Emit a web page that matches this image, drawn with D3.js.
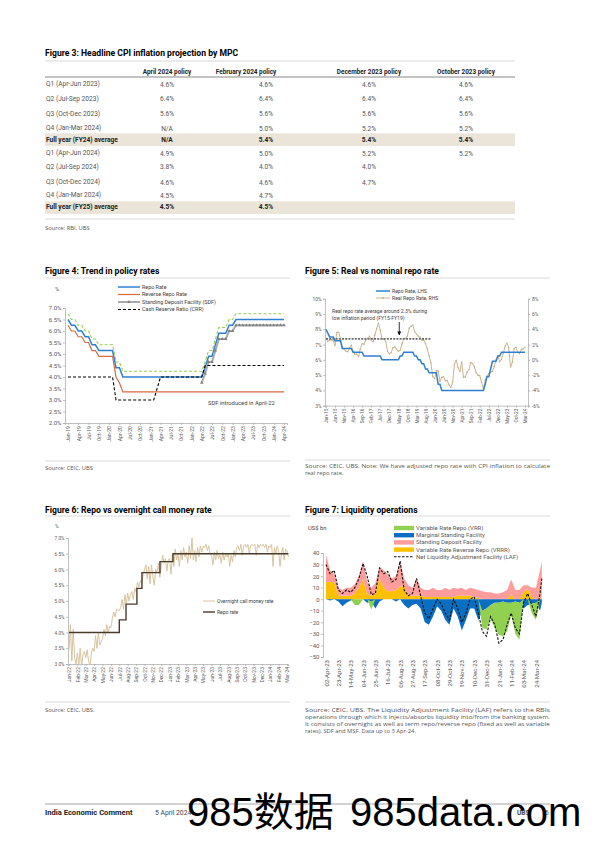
<!DOCTYPE html>
<html><head><meta charset="utf-8">
<script src="https://cdn.jsdelivr.net/npm/d3@7"></script>
<style>html,body{margin:0;padding:0;background:#fff;}</style>
</head><body>
<svg id="page" width="595" height="842" xmlns="http://www.w3.org/2000/svg"></svg>
<script>
// ================= DATA =================
// Figure 3 table
const t3Columns = ["April 2024 policy","February 2024 policy","December 2023 policy","October 2023 policy"];
const t3Rows = ["Q1 (Apr-Jun 2023)","Q2 (Jul-Sep 2023)","Q3 (Oct-Dec 2023)","Q4 (Jan-Mar 2024)","Full year (FY24) average",
                "Q1 (Apr-Jun 2024)","Q2 (Jul-Sep 2024)","Q3 (Oct-Dec 2024)","Q4 (Jan-Mar 2024)","Full year (FY25) average"];
const t3Apr24 = ["4.6%","6.4%","5.6%","N/A","N/A","4.9%","3.8%","4.6%","4.5%","4.5%"];
const t3Feb24 = ["4.6%","6.4%","5.6%","5.0%","5.4%","5.0%","4.0%","4.6%","4.7%","4.5%"];
const t3Dec23 = ["4.6%","6.4%","5.6%","5.2%","5.4%","5.2%","4.0%","4.7%","",""];
const t3Oct23 = ["4.6%","6.4%","5.6%","5.2%","5.4%","5.2%","","","",""];
const t3Highlight = [4, 9];

// Figure 4: monthly Jan-19 .. Apr-24
const f4XLabels = ["Jan-19","Apr-19","Jul-19","Oct-19","Jan-20","Apr-20","Jul-20","Oct-20","Jan-21","Apr-21","Jul-21","Oct-21",
                   "Jan-22","Apr-22","Jul-22","Oct-22","Jan-23","Apr-23","Jul-23","Oct-23","Jan-24","Apr-24"];
const f4YTicks = [2.0,2.5,3.0,3.5,4.0,4.5,5.0,5.5,6.0,6.5,7.0];
const f4Repo = [6.5,6.25,6.25,6.0,6.0,5.75,5.75,5.4,5.4,5.15,5.15,5.15,5.15,5.15,4.4,4.4,4.0,
  4.0,4.0,4.0,4.0,4.0,4.0,4.0,4.0,4.0,4.0,4.0,4.0,4.0,4.0,4.0,4.0,4.0,4.0,4.0,4.0,4.0,4.0,4.0,
  4.4,4.9,4.9,5.4,5.9,5.9,5.9,6.25,6.25,6.5,
  6.5,6.5,6.5,6.5,6.5,6.5,6.5,6.5,6.5,6.5,6.5,6.5,6.5,6.5];
const f4Reverse = [6.25,6.0,6.0,5.75,5.75,5.5,5.5,5.15,5.15,4.9,4.9,4.9,4.9,4.9,4.0,3.75,3.35,
  3.35,3.35,3.35,3.35,3.35,3.35,3.35,3.35,3.35,3.35,3.35,3.35,3.35,3.35,3.35,3.35,3.35,3.35,3.35,3.35,3.35,3.35,3.35,
  3.35,3.35,3.35,3.35,3.35,3.35,3.35,3.35,3.35,3.35,3.35,3.35,3.35,3.35,3.35,3.35,3.35,3.35,3.35,3.35,3.35,3.35,3.35,3.35];
const f4MSF = [6.75,6.5,6.5,6.25,6.25,6.0,6.0,5.65,5.65,5.4,5.4,5.4,5.4,5.4,4.65,4.65,4.25,
  4.25,4.25,4.25,4.25,4.25,4.25,4.25,4.25,4.25,4.25,4.25,4.25,4.25,4.25,4.25,4.25,4.25,4.25,4.25,4.25,4.25,4.25,4.25,
  4.65,5.15,5.15,5.65,6.15,6.15,6.15,6.5,6.5,6.75,
  6.75,6.75,6.75,6.75,6.75,6.75,6.75,6.75,6.75,6.75,6.75,6.75,6.75,6.75];
const f4SDF = [null,null,null,null,null,null,null,null,null,null,null,null,null,null,null,null,null,null,null,null,
  null,null,null,null,null,null,null,null,null,null,null,null,null,null,null,null,null,null,null,
  3.75,4.15,4.65,4.65,5.15,5.65,5.65,5.65,6.0,6.0,6.25,
  6.25,6.25,6.25,6.25,6.25,6.25,6.25,6.25,6.25,6.25,6.25,6.25,6.25,6.25];
const f4CRR = [4.0,4.0,4.0,4.0,4.0,4.0,4.0,4.0,4.0,4.0,4.0,4.0,4.0,4.0,
  3.0,3.0,3.0,3.0,3.0,3.0,3.0,3.0,3.0,3.0,3.0,3.0,
  3.5,
  4.0,4.0,4.0,4.0,4.0,4.0,4.0,4.0,4.0,4.0,4.0,4.0,4.0,
  4.5,4.5,4.5,4.5,4.5,4.5,4.5,4.5,4.5,4.5,4.5,4.5,4.5,4.5,4.5,4.5,4.5,4.5,4.5,4.5,4.5,4.5,4.5,4.5];
const f4Legend = ["Repo Rate","Reverse Repo Rate","Standing Deposit Facility (SDF)","Cash Reserve Ratio (CRR)"];

// Figure 5: monthly Jan-15 .. Mar-24
const f5XLabels = ["Jan-15","Jun-15","Nov-15","Apr-16","Sep-16","Feb-17","Jul-17","Dec-17","May-18","Oct-18","Mar-19","Aug-19",
                   "Jan-20","Jun-20","Nov-20","Apr-21","Sep-21","Feb-22","Jul-22","Dec-22","May-23","Oct-23","Mar-24"];
const f5LeftTicks = [3,4,5,6,7,8,9,10];
const f5RightTicks = [-6,-4,-2,0,2,4,6,8];
const f5Repo = [8.0,7.75,7.5,7.5,7.5,7.25,7.25,7.25,7.25,6.75,6.75,6.75,6.75,6.75,6.75,
  6.5,6.5,6.5,6.5,6.5,6.5,6.25,6.25,6.25,6.25,6.25,6.25,6.25,6.25,6.25,6.25,
  6.0,6.0,6.0,6.0,6.0,6.0,6.0,6.0,6.0,6.0,6.25,6.25,6.5,6.5,6.5,6.5,6.5,6.5,
  6.25,6.25,6.0,6.0,5.75,5.75,5.4,5.4,5.15,5.15,5.15,5.15,5.15,4.4,4.4,4.0,
  4.0,4.0,4.0,4.0,4.0,4.0,4.0,4.0,4.0,4.0,4.0,4.0,4.0,4.0,4.0,4.0,4.0,4.0,4.0,4.0,4.0,4.0,4.0,
  4.4,4.9,4.9,5.4,5.9,5.9,5.9,6.25,6.25,6.5,
  6.5,6.5,6.5,6.5,6.5,6.5,6.5,6.5,6.5,6.5,6.5,6.5,6.5];
const f5Real = [2.8,2.4,2.6,2.6,2.5,1.9,3.6,3.6,2.8,1.75,1.34,1.14,1.06,1.57,1.92,1.03,0.74,0.73,0.43,1.45,2.11,
  2.05,2.62,2.84,3.08,2.6,2.36,3.26,4.07,4.79,3.89,2.72,2.72,2.42,1.12,0.79,0.93,1.56,1.72,1.42,1.13,
  1.25,2.08,2.81,2.8,3.12,4.17,4.39,4.53,3.68,3.39,3.08,2.95,2.57,2.6,2.12,1.41,0.53,-0.39,-2.2,
  -2.44,-1.43,-1.44,-2.82,-2.27,-2.23,-2.73,-2.69,-3.27,-3.61,-2.93,-0.59,-0.06,-1.03,-1.52,-0.29,
  -2.3,-2.26,-1.59,-1.3,-0.35,-0.48,-0.91,-1.66,-2.01,-2.07,-2.95,-3.79,-2.64,-2.11,-1.81,-1.6,-1.51,
  -0.87,0.02,0.53,-0.27,0.06,0.84,1.8,2.19,1.63,-0.94,-0.33,1.48,1.63,0.95,0.81,1.4,1.41,1.65];
const f5AvgFrom = 0, f5AvgTo = 58, f5AvgValue = 2.75;   // RHS units, month index
const f5Legend = ["Repo Rate, LHS","Real Repo Rate, RHS"];

// Figure 6: x in label units (Jan-22 = 0)
const f6XLabels = ["Jan-22","Feb-22","Mar-22","Apr-22","May-22","Jun-22","Jul-22","Aug-22","Sep-22","Oct-22","Nov-22","Dec-22",
  "Jan-23","Feb-23","Mar-23","Apr-23","May-23","Jun-23","Jul-23","Aug-23","Sep-23","Oct-23","Nov-23","Dec-23","Jan-24","Feb-24","Mar-24"];
const f6YTicks = [3.0,3.5,4.0,4.5,5.0,5.5,6.0,6.5,7.0];
const f6Call = [3.45,4.25,3.1,4.1,3.2,3.0, 3.35,2.95,3.5,2.9,3.3,3.4, 3.2,3.45,3.1,2.9,3.35,3.5,
  3.4,3.9,3.5,4.0,3.6,3.7, 3.8,4.1,3.9,4.25,4.0,4.2, 4.15,4.45,4.65,4.5,4.75,4.7,
  4.7,4.8,5.05,4.75,5.2,4.9, 5.25,5.0,5.2,5.3,5.05,5.4, 5.3,5.6,5.45,5.65,5.55,5.8,
  6.0,6.15,5.7,6.1,5.55,6.15, 5.8,5.5,6.0,5.9,6.2,5.75, 6.1,6.45,6.2,6.35,5.95,6.3,
  6.35,5.85,6.5,6.1,6.65,6.3, 6.5,6.1,6.6,6.3,6.7,6.4, 6.55,6.2,6.75,6.35,7.0,6.3,
  6.6,6.25,6.7,6.4,6.75,6.55, 6.75,6.7,6.8,6.6,6.75,6.5, 6.45,6.15,6.55,6.3,6.6,6.35,
  6.45,6.2,6.55,6.3,6.5,6.4, 6.5,6.1,6.45,6.25,6.6,6.4, 6.7,6.75,6.6,6.8,6.45,6.75,
  6.8,6.7,6.8,6.5,6.75,6.8, 6.75,6.8,6.45,6.8,6.7,6.8, 6.75,6.8,6.7,6.8,6.55,6.75,
  6.7,6.8,6.1,6.7,6.5,6.75, 6.6,6.1,6.5,6.7,6.3,6.65, 6.6,6.4];
const f6PerLabel = 6;
const f6RepoAt = [0,6.0,6.8,8.1,8.7,10.85,12.4,26.17];
const f6Repo = [4.0,4.4,4.9,5.4,5.9,6.25,6.5,6.5];
const f6Legend = ["Overnight call money rate","Repo rate"];

// Figure 7: weekly observations, US$ bn
const f7Dates = ["2023-04-02","2023-04-09","2023-04-16","2023-04-23","2023-04-30","2023-05-07","2023-05-14","2023-05-21","2023-05-28",
  "2023-06-04","2023-06-11","2023-06-18","2023-06-25","2023-07-02","2023-07-09","2023-07-16","2023-07-23","2023-07-30",
  "2023-08-06","2023-08-13","2023-08-20","2023-08-27","2023-09-03","2023-09-10","2023-09-17","2023-09-24",
  "2023-10-01","2023-10-08","2023-10-15","2023-10-22","2023-10-29","2023-11-05","2023-11-12","2023-11-19","2023-11-26",
  "2023-12-03","2023-12-10","2023-12-17","2023-12-24","2023-12-31","2024-01-07","2024-01-14","2024-01-21","2024-01-28",
  "2024-02-04","2024-02-11","2024-02-18","2024-02-25","2024-03-03","2024-03-10","2024-03-17","2024-03-24","2024-03-31","2024-04-03"];
const f7VRRR = [15,15,15,3,3,3,3,5,10,17,4,3,5,18,10,7,7,8,11,11,3,3,3,3,2,2,2,2,2,2,2,2,3,3,3,3,2,1,0,0,0,0,0,0,0,4,0,0,6,9,2,0,0,3];
const f7SDF  = [23,10,7,7,5,7,7,8,10,16,11,7,9,10,15,15,11,12,22,7,9,7,15,7,6,6,8,6,6,8,6,8,6,7,5,7,7,7,7,6,6,5,5,6,8,13,8,8,6,3,8,10,25,30];
const f7MSF  = [0,-1,0,-2,-6,-3,-1,0,0,0,-3,-2,-8,-2,0,0,0,-2,0,-5,-8,-5,-4,-8,-20,-22,-15,-6,-10,-18,-22,-8,-15,-27,-18,-8,-8,-18,-10,-8,-5,-3,-3,-2,-3,-3,-2,-3,-8,-5,-4,-3,-10,-3];
const f7VRR  = [0,0,0,0,0,0,0,-5,-5,0,0,-7,0,0,0,0,0,0,0,0,0,0,0,0,0,0,0,0,0,0,0,0,0,0,0,0,0,0,-15,-18,-12,-22,-28,-30,-25,-10,-28,-32,0,0,-8,-15,0,0];
const f7NetLAF = [30,22,25,8,5,8,6,10,18,31,20,4,5,27,22,24,15,17,33,8,3,5,18,3,-12,-17,-8,0,-4,-12,-18,0,-8,-20,-12,0,2,-12,-28,-32,-15,-22,-38,-35,-22,-12,-25,-30,-3,5,-5,-15,5,18];
const f7XLabels = ["02-Apr-23","23-Apr-23","14-May-23","04-Jun-23","25-Jun-23","16-Jul-23","06-Aug-23","27-Aug-23","17-Sep-23",
  "08-Oct-23","29-Oct-23","19-Nov-23","10-Dec-23","31-Dec-23","21-Jan-24","11-Feb-24","03-Mar-24","24-Mar-24"];
const f7YTicks = [-50,-40,-30,-20,-10,0,10,20,30,40];
const f7Legend = ["Variable Rate Repo (VRR)","Marginal Standing Facility","Standing Deposit Facility","Variable Rate Reverse Repo (VRRR)","Net Liquidity Adjustment Facility (LAF)"];

// ================= DRAWING =================
const F = "Roboto, 'Liberation Sans', Arial, sans-serif";
const FS = "'Open Sans', Roboto, sans-serif";
const svg = d3.select("#page");
svg.append("rect").attr("width",595).attr("height",842).attr("fill","#fff");

function T(x, y, s, o = {}) {
  const t = svg.append("text").attr("x", x).attr("y", y)
    .attr("font-family", o.family || F).attr("font-size", o.size || 6)
    .attr("font-weight", o.bold ? 700 : 400).attr("fill", o.fill || "#333")
    .attr("text-anchor", o.anchor || "start").text(s);
  if (o.len) t.attr("textLength", o.len).attr("lengthAdjust", "spacingAndGlyphs");
  return t;
}
function L(x1, y1, x2, y2, c, w, dash) {
  const l = svg.append("line").attr("x1", x1).attr("y1", y1).attr("x2", x2).attr("y2", y2)
    .attr("stroke", c).attr("stroke-width", w);
  if (dash) l.attr("stroke-dasharray", dash);
  return l;
}
function styleAxis(g, size, hideDomain) {
  g.attr("font-family", null).attr("font-size", null);
  g.selectAll("path.domain").attr("stroke", "#a6a6a6").attr("stroke-width", 0.7);
  if (hideDomain) g.selectAll("path.domain").remove();
  g.selectAll(".tick line").attr("stroke", "#a6a6a6").attr("stroke-width", 0.7);
  g.selectAll(".tick text").attr("font-family", F).attr("font-size", size).attr("fill", "#595959");
}
function rotateLabels(g) {
  g.selectAll(".tick text").attr("transform", "rotate(-90)").attr("x", -3).attr("y", 0)
    .attr("dy", "0.35em").attr("text-anchor", "end");
}
const TS = 8.6;   // figure title size
const SS = 5.8;   // source text size
const src = (x, y, s, len) => T(x, y, s, {size: SS, fill: "#555", family: FS, len: len});

// ---------- Figure 3 table ----------
T(45, 56, "Figure 3: Headline CPI inflation projection by MPC", {size: TS, bold: true, fill: "#000"});
L(45, 61, 515, 61, "#d9d9d9", 1);
const t3ValX = [167, 266, 369, 466];
const t3HeadX = [167, 246, 369, 466];
const t3Base = [86, 100.5, 115.5, 130, 141.5, 155, 168.5, 184, 197, 209];
const t3Bands = {4: [133.3, 146], 9: [201.3, 214]};
t3Highlight.forEach(i => svg.append("rect").attr("x", 45).attr("y", t3Bands[i][0]).attr("width", 470)
  .attr("height", t3Bands[i][1] - t3Bands[i][0]).attr("fill", "#ebe4d9"));
t3Columns.forEach((c, j) => T(t3HeadX[j], 74, c, {size: 6.4, bold: true, anchor: "middle", fill: "#222"}));
L(45, 77, 515, 77, "#6b6b6b", 0.8);
const t3Cols = [t3Apr24, t3Feb24, t3Dec23, t3Oct23];
t3Rows.forEach((r, i) => {
  const b = t3Highlight.includes(i);
  T(46, t3Base[i], r, {size: 6.6, bold: b, fill: b ? "#222" : "#555"});
  t3Cols.forEach((col, j) => { if (col[i]) T(t3ValX[j], t3Base[i] + (b ? 0 : 0.5), col[i], {size: 6.6, bold: b, anchor: "middle", fill: b ? "#222" : "#555"}); });
});
L(45, 219, 515, 219, "#d9d9d9", 1);
src(45, 230, "Source: RBI, UBS");

// ---------- Figure 4 ----------
T(45, 274, "Figure 4: Trend in policy rates", {size: TS, bold: true, fill: "#000"});
L(45, 278, 290, 278, "#d9d9d9", 1);
const x4 = d3.scaleLinear().domain([-0.875, 63.875]).range([65, 287]);
const y4 = d3.scaleLinear().domain([2, 7]).range([423, 308]);
T(55, 291, "%", {size: 5.5, fill: "#595959"});
svg.append("g").attr("transform", "translate(65,0)")
  .call(d3.axisLeft(y4).tickValues(f4YTicks).tickFormat(d => d.toFixed(1) + "%").tickSize(2).tickPadding(1.5))
  .call(g => styleAxis(g, 6));
svg.append("g").attr("transform", "translate(0,423)")
  .call(d3.axisBottom(x4).tickValues(d3.range(0, 64, 3)).tickFormat((d, i) => f4XLabels[i]).tickSize(2))
  .call(g => { styleAxis(g, 5.2); rotateLabels(g); });
const line4 = d3.line().defined(d => d != null).x((d, i) => x4(i)).y(d => y4(d));
svg.append("path").datum(f4MSF).attr("d", line4).attr("fill", "none").attr("stroke", "#92d050").attr("stroke-width", 1.1).attr("stroke-dasharray", "3,2");
svg.append("path").datum(f4Repo).attr("d", line4).attr("fill", "none").attr("stroke", "#2f80d1").attr("stroke-width", 1.5);
svg.append("path").datum(f4Reverse).attr("d", line4).attr("fill", "none").attr("stroke", "#d46b43").attr("stroke-width", 1.2);
svg.append("path").datum(f4SDF).attr("d", line4).attr("fill", "none").attr("stroke", "#a9a9a9").attr("stroke-width", 2);
svg.append("g").selectAll("path").data(f4SDF.map((v, i) => [i, v]).filter(d => d[1] != null)).join("path")
  .attr("transform", d => `translate(${x4(d[0])},${y4(d[1])})`)
  .attr("d", d3.symbol(d3.symbolTriangle, 5)).attr("fill", "#808080");
svg.append("path").datum(f4CRR).attr("d", line4).attr("fill", "none").attr("stroke", "#000").attr("stroke-width", 1.1).attr("stroke-dasharray", "3,2");
// legend
const f4LegY = [287, 294.5, 302, 309.5];
L(118, f4LegY[0], 140, f4LegY[0], "#2f80d1", 1.5);
L(118, f4LegY[1], 140, f4LegY[1], "#d46b43", 1.2);
L(118, f4LegY[2], 140, f4LegY[2], "#a9a9a9", 2);
svg.append("path").attr("transform", `translate(129,${f4LegY[2]})`).attr("d", d3.symbol(d3.symbolTriangle, 5)).attr("fill", "#808080");
L(118, f4LegY[3], 140, f4LegY[3], "#000", 1.1, "3,2");
f4Legend.forEach((s, i) => T(142, f4LegY[i] + 1.9, s, {size: 5.4, fill: "#404040"}));
T(208, 405, "SDF introduced in April-22", {size: 5.8, fill: "#404040"});
L(45, 461, 290, 461, "#d9d9d9", 1);
src(45, 470, "Source: CEIC, UBS");

// ---------- Figure 5 ----------
T(305, 274, "Figure 5: Real vs nominal repo rate", {size: TS, bold: true, fill: "#000"});
L(305, 278, 550, 278, "#d9d9d9", 1);
const x5 = d3.scaleLinear().domain([-0.55, 111.66]).range([325, 528]);
const y5L = d3.scaleLinear().domain([3, 10]).range([405.7, 298.7]);
const y5R = d3.scaleLinear().domain([-6, 8]).range([405.7, 298.7]);
svg.append("g").attr("transform", "translate(325,0)")
  .call(d3.axisLeft(y5L).tickValues(f5LeftTicks).tickFormat(d => d + "%").tickSize(2).tickPadding(1.5))
  .call(g => styleAxis(g, 4.9));
svg.append("g").attr("transform", "translate(528,0)")
  .call(d3.axisRight(y5R).tickValues(f5RightTicks).tickFormat(d => d + "%").tickSize(2).tickPadding(2))
  .call(g => styleAxis(g, 4.9));
svg.append("g").attr("transform", "translate(0,405.7)")
  .call(d3.axisBottom(x5).tickValues(d3.range(0, 111, 5)).tickFormat((d, i) => f5XLabels[i]).tickSize(2))
  .call(g => { styleAxis(g, 4.7); rotateLabels(g); });
svg.append("path").datum(f5Real).attr("d", d3.line().x((d, i) => x5(i)).y(d => y5R(d)))
  .attr("fill", "none").attr("stroke", "#cbb590").attr("stroke-width", 1);
svg.append("g").selectAll("circle").data(f5Real).join("circle")
  .attr("cx", (d, i) => x5(i)).attr("cy", d => y5R(d)).attr("r", 0.7).attr("fill", "#c4ab82");
svg.append("path").datum(f5Repo).attr("d", d3.line().x((d, i) => x5(i)).y(d => y5L(d)))
  .attr("fill", "none").attr("stroke", "#2f80d1").attr("stroke-width", 1.5);
L(x5(f5AvgFrom), y5R(f5AvgValue), x5(f5AvgTo), y5R(f5AvgValue), "#6b6b6b", 1.8, "2,1.2");
T(332, 313, "Real repo rate average around 2.3% during", {size: 5.1, fill: "#404040"});
T(332, 320, "low inflation period (FY15-FY19)", {size: 5.1, fill: "#404040"});
svg.append("defs").append("marker").attr("id", "ah").attr("viewBox", "0 0 10 10").attr("refX", 9).attr("refY", 5)
  .attr("markerWidth", 5).attr("markerHeight", 5).attr("orient", "auto")
  .append("path").attr("d", "M0,0L10,5L0,10Z").attr("fill", "#000");
L(x5(40.5), y5R(4.95), x5(40.5), y5R(3.25), "#000", 0.8).attr("marker-end", "url(#ah)");
L(376, 291, 390, 291, "#2f80d1", 1.5);
L(376, 298, 390, 298, "#cbb590", 1);
svg.append("circle").attr("cx", 383).attr("cy", 298).attr("r", 0.9).attr("fill", "#c4ab82");
f5Legend.forEach((s, i) => T(392, 292.8 + i * 7, s, {size: 5.1, fill: "#404040"}));
L(305, 460, 550, 460, "#d9d9d9", 1);
src(305, 468, "Source: CEIC, UBS. Note: We have adjusted repo rate with CPI inflation to calculate", 245);
src(305, 475, "real repo rate.");

// ---------- Figure 6 ----------
T(45, 513, "Figure 6: Repo vs overnight call money rate", {size: TS, bold: true, fill: "#000"});
L(45, 516, 290, 516, "#d9d9d9", 1);
const x6 = d3.scaleLinear().domain([-0.12, 26.12]).range([68, 288]);
const y6 = d3.scaleLinear().domain([3, 7]).range([664, 538]);
T(55, 528, "%", {size: 5, fill: "#595959"});
svg.append("g").attr("transform", "translate(68,0)")
  .call(d3.axisLeft(y6).tickValues(f6YTicks).tickFormat(d => d.toFixed(1) + "%").tickSize(2).tickPadding(1.5))
  .call(g => styleAxis(g, 4.7));
svg.append("g").attr("transform", "translate(0,664)")
  .call(d3.axisBottom(x6).tickValues(d3.range(0, 27)).tickFormat((d, i) => f6XLabels[i]).tickSize(2))
  .call(g => { styleAxis(g, 5); rotateLabels(g); });
svg.append("clipPath").attr("id", "c6").append("rect").attr("x", 68).attr("y", 530).attr("width", 222).attr("height", 134);
svg.append("path").datum(f6Call).attr("clip-path", "url(#c6)")
  .attr("d", d3.line().x((d, i) => x6(i / f6PerLabel)).y(d => y6(d)))
  .attr("fill", "none").attr("stroke", "#d8c39e").attr("stroke-width", 1);
svg.append("path").datum(f6Repo.map((v, i) => [f6RepoAt[i], v]))
  .attr("d", d3.line().curve(d3.curveStepAfter).x(d => x6(d[0])).y(d => y6(d[1])))
  .attr("fill", "none").attr("stroke", "#4b3b2b").attr("stroke-width", 1.4);
L(203, 601, 215, 601, "#d8c39e", 1);
L(203, 612, 215, 612, "#4b3b2b", 1.4);
f6Legend.forEach((s, i) => T(217, 602.7 + i * 11, s, {size: 5, fill: "#404040"}));
L(45, 702, 290, 702, "#d9d9d9", 1);
src(45, 712, "Source: CEIC, UBS.");

// ---------- Figure 7 ----------
T(305, 513, "Figure 7: Liquidity operations", {size: TS, bold: true, fill: "#000"});
L(305, 516, 550, 516, "#d9d9d9", 1);
const parse = d3.timeParse("%Y-%m-%d");
const d7 = f7Dates.map(parse);
const x7 = d3.scaleTime().domain([parse("2023-04-02"), parse("2024-04-03")]).range([326, 541.8]);
const y7 = d3.scaleLinear().domain([-50, 40]).range([657, 553]);
T(308, 530, "US$ bn", {size: 5.8, fill: "#404040"});
const rows7 = d7.map((d, i) => ({date: d, VRRR: f7VRRR[i], SDF: f7SDF[i], MSF: f7MSF[i], VRR: f7VRR[i]}));
const stack7 = d3.stack().keys(["VRRR", "SDF", "MSF", "VRR"]).offset(d3.stackOffsetDiverging)(rows7);
const col7 = {VRRR: "#ffc000", SDF: "#ff9d9d", MSF: "#0a6fc2", VRR: "#92d050"};
const area7 = d3.area().x(d => x7(d.data.date)).y0(d => y7(d[0])).y1(d => y7(d[1]));
svg.append("g").selectAll("path").data(stack7).join("path").attr("d", area7).attr("fill", d => col7[d.key]);
svg.append("path").datum(f7NetLAF).attr("d", d3.line().x((d, i) => x7(d7[i])).y(d => y7(d)))
  .attr("fill", "none").attr("stroke", "#111").attr("stroke-width", 1.1).attr("stroke-dasharray", "2.5,1.5");
svg.append("g").attr("transform", "translate(323,0)")
  .call(d3.axisLeft(y7).tickValues(f7YTicks).tickSize(2).tickPadding(1.5))
  .call(g => styleAxis(g, 6));
const f7TickDates = f7XLabels.map(s => d3.timeParse("%d-%b-%y")(s));
svg.append("g").attr("transform", "translate(0,657)")
  .call(d3.axisBottom(x7).tickValues(f7TickDates).tickFormat((d, i) => f7XLabels[i]).tickSize(0))
  .call(g => { styleAxis(g, 6.1, true); rotateLabels(g); });
// legend
const f7LegY = [528, 535.2, 542.4, 549.6, 556.8];
const f7LegCol = [col7.VRR, col7.MSF, col7.SDF, col7.VRRR];
f7LegCol.forEach((c, i) => svg.append("rect").attr("x", 394).attr("y", f7LegY[i] - 2.2).attr("width", 20).attr("height", 4.4).attr("fill", c));
L(394, f7LegY[4], 414, f7LegY[4], "#111", 1.1, "2.5,1.5");
f7Legend.forEach((s, i) => T(416, f7LegY[i] + 2, s, {size: 6, fill: "#595959"}));
L(305, 702, 550, 702, "#d9d9d9", 1);
const f7Src = ["Source: CEIC, UBS. The Liquidity Adjustment Facility (LAF) refers to the RBIs",
  "operations through which it injects/absorbs liquidity into/from the banking system.",
  "It consists of overnight as well as term repo/reverse repo (fixed as well as variable",
  "rates), SDF and MSF. Data up to 3 Apr-24."];
f7Src.forEach((s, i) => src(305, 712 + i * 7, s, i < 3 ? 245 : null));

// ---------- Footer ----------
L(45, 804, 550, 804, "#7f7f7f", 0.7);
T(45, 815, "India Economic Comment", {size: 7.6, bold: true, fill: "#222"});
T(155, 815, "5 April 2024", {size: 6.8, fill: "#444"});
T(517, 815, "UBS", {size: 6.5, bold: true, fill: "#444"});
T(545, 815, "6", {size: 6.5, fill: "#444"});
// watermark
T(187, 826, "985数据", {size: 40, fill: "#000", family: "'Liberation Sans', 'Noto Sans CJK SC', sans-serif"});
T(350, 826, "985data.com", {size: 40, fill: "#000", family: "'Liberation Sans', Arial, sans-serif"});
</script>
</body></html>
